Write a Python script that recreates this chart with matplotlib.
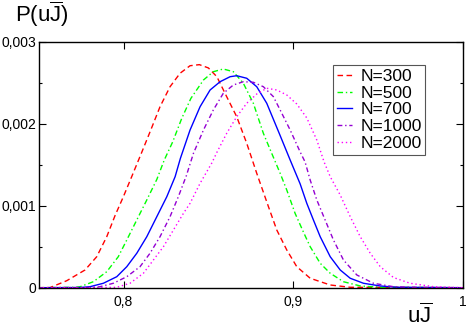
import matplotlib
matplotlib.use("Agg")
import matplotlib.pyplot as plt
import numpy as np

plt.rcParams['font.family'] = ['Liberation Sans', 'DejaVu Sans']
plt.rcParams['mathtext.fontset'] = 'custom'
plt.rcParams['mathtext.rm'] = 'Liberation Sans'

# Curves (y in units of 1e-3)
x_300 = [0.750, 0.7567, 0.7665, 0.7773, 0.7842, 0.7901, 0.7950, 0.7999, 0.8048, 0.8107,
         0.8156, 0.8215, 0.8274, 0.8333, 0.8392, 0.8447, 0.8500, 0.8550, 0.8608, 0.8667,
         0.8726, 0.8785, 0.8854, 0.8903, 0.8962, 0.9021, 0.9100, 0.9218, 0.9336, 1.000]
y_300 = [0.000, 0.002, 0.085, 0.216, 0.378, 0.622, 0.880, 1.110, 1.354, 1.650,
         1.900, 2.207, 2.451, 2.615, 2.707, 2.720, 2.680, 2.573, 2.329, 2.085,
         1.761, 1.395, 0.988, 0.704, 0.460, 0.256, 0.115, 0.033, 0.005, 0.000]

x_500 = [0.750, 0.7714, 0.7744, 0.7822, 0.7901, 0.7969, 0.8019, 0.8078, 0.8137, 0.8196,
         0.8240, 0.8290, 0.8343, 0.8397, 0.8471, 0.8529, 0.8588, 0.8647, 0.8706, 0.8765,
         0.8824, 0.8873, 0.8923, 0.8962, 0.9011, 0.9060, 0.9100, 0.9159, 0.9218, 0.9296,
         0.9395, 0.9513, 1.000]
y_500 = [0.000, 0.005, 0.012, 0.073, 0.195, 0.378, 0.582, 0.826, 1.070, 1.320,
         1.557, 1.780, 2.065, 2.309, 2.533, 2.634, 2.667, 2.634, 2.493, 2.249,
         1.883, 1.640, 1.395, 1.191, 0.907, 0.679, 0.500, 0.298, 0.176, 0.073,
         0.021, 0.005, 0.000]

x_700 = [0.750, 0.7744, 0.7802, 0.7881, 0.7960, 0.8019, 0.8078, 0.8137, 0.8196, 0.8255,
         0.8304, 0.8335, 0.8392, 0.8451, 0.8510, 0.8569, 0.8628, 0.8667, 0.8726, 0.8785,
         0.8844, 0.8918, 0.8982, 0.9041, 0.9080, 0.9119, 0.9159, 0.9218, 0.9277, 0.9336,
         0.9414, 0.9513, 0.9611, 1.000]
y_700 = [0.000, 0.002, 0.012, 0.054, 0.134, 0.256, 0.420, 0.622, 0.866, 1.110,
         1.354, 1.577, 1.923, 2.207, 2.411, 2.512, 2.573, 2.585, 2.554, 2.451,
         2.249, 1.880, 1.557, 1.265, 1.029, 0.826, 0.622, 0.378, 0.216, 0.115,
         0.054, 0.021, 0.005, 0.000]

x_1000 = [0.750, 0.7802, 0.7861, 0.7940, 0.8019, 0.8097, 0.8156, 0.8215, 0.8274, 0.8323,
          0.8370, 0.8412, 0.8471, 0.8529, 0.8588, 0.8647, 0.8706, 0.8765, 0.8824, 0.8883,
          0.8923, 0.8982, 0.9041, 0.9070, 0.9100, 0.9139, 0.9188, 0.9237, 0.9296, 0.9375,
          0.9473, 0.9591, 0.9748, 1.000]
y_1000 = [0.000, 0.002, 0.012, 0.054, 0.134, 0.256, 0.420, 0.622, 0.866, 1.110,
          1.365, 1.639, 1.923, 2.167, 2.371, 2.472, 2.512, 2.505, 2.451, 2.330,
          2.167, 1.923, 1.655, 1.533, 1.313, 1.070, 0.826, 0.582, 0.338, 0.155,
          0.054, 0.012, 0.002, 0.000]

x_2000 = [0.750, 0.7861, 0.7960, 0.8038, 0.8117, 0.8176, 0.8235, 0.8294, 0.8353, 0.8392,
          0.8451, 0.8520, 0.8550, 0.8608, 0.8667, 0.8726, 0.8785, 0.8844, 0.8903, 0.8962,
          0.9021, 0.9080, 0.9139, 0.9182, 0.9218, 0.9277, 0.9336, 0.9395, 0.9454, 0.9513,
          0.9591, 0.9689, 0.9827, 0.9984, 1.000]
y_2000 = [0.000, 0.001, 0.005, 0.054, 0.176, 0.338, 0.500, 0.704, 0.907, 1.029,
          1.273, 1.520, 1.650, 1.883, 2.085, 2.249, 2.362, 2.432, 2.411, 2.350,
          2.240, 2.070, 1.801, 1.533, 1.354, 1.130, 0.866, 0.622, 0.420, 0.256,
          0.124, 0.054, 0.012, 0.001, 0.000]

labels = ['N=300', 'N=500', 'N=700', 'N=1000', 'N=2000']
y_ticks = [0, 0.001, 0.002, 0.003]
y_ticklabels = ['0', '0,001', '0,002', '0,003']
x_ticks = [0.8, 0.9, 1.0]
x_ticklabels = ['0,8', '0,9', '1']

fig = plt.figure(figsize=(4.67, 3.27), dpi=100)
ax = fig.add_axes([0.0829, 0.1202, 0.9083, 0.7523])

series = [(x_300, y_300, '#ff0000', (0, (4, 2.5))),
          (x_500, y_500, '#00ff00', (0, (4, 2, 1, 2))),
          (x_700, y_700, '#0000ff', '-'),
          (x_1000, y_1000, '#9400d3', (0, (3.5, 2, 1, 2))),
          (x_2000, y_2000, '#ff00ff', (0, (1, 2)))]
for (xs, ys, col, ls), lab in zip(series, labels):
    ax.plot(xs, np.array(ys) * 1e-3, color=col, linestyle=ls, lw=1.0, label=lab)

ax.set_xlim(0.75, 1.0)
ax.set_ylim(0, 0.003)
ax.set_xticks(x_ticks)
ax.set_xticklabels(x_ticklabels)
ax.set_yticks(y_ticks)
ax.set_yticklabels(y_ticklabels)
ax.set_yticks(np.arange(0.0005, 0.003, 0.001), minor=True)
ax.tick_params(which='both', direction='in', top=True, right=True, labelsize=10, width=0.8)
ax.tick_params(which='major', length=5)
ax.tick_params(which='minor', length=2.5)
ax.tick_params(axis='x', pad=5)
ax.tick_params(axis='y', pad=2)
for s in ax.spines.values():
    s.set_linewidth(1.0)

leg = ax.legend(loc='upper left', bbox_to_anchor=(0.6945, 0.905), fontsize=12.5,
                handlelength=0.85, handletextpad=0.5, labelspacing=0.1,
                borderpad=0.2, borderaxespad=0, fancybox=False, framealpha=1)
leg.get_frame().set_edgecolor('#555555')
leg.get_frame().set_linewidth(0.8)

fig.text(0.032, 0.934, r'P(u$\overline{\mathrm{J}}$)', fontsize=16, ha='left', va='baseline')
fig.text(0.898, 0.012, r'u$\overline{\mathrm{J}}$', fontsize=16, ha='center', va='baseline')

plt.savefig('out.png', dpi=100)
